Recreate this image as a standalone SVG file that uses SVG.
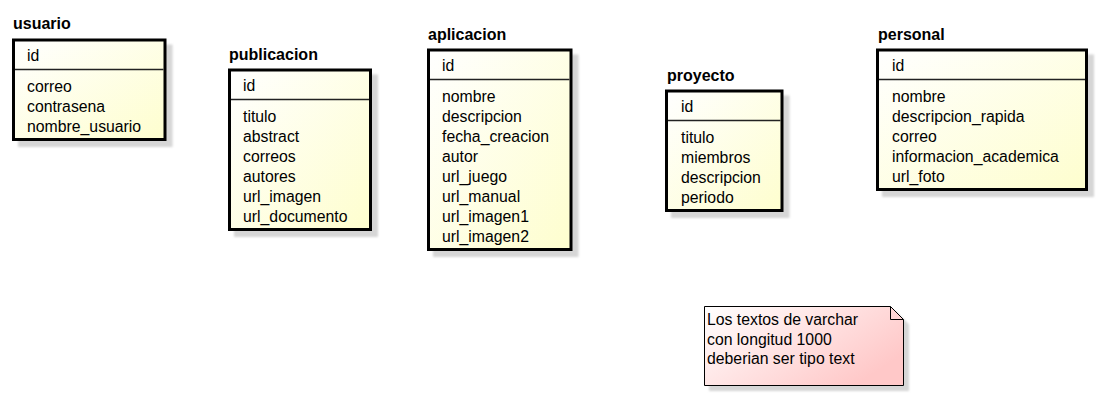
<svg xmlns="http://www.w3.org/2000/svg" width="1100" height="400" viewBox="0 0 1100 400">
<defs>
<linearGradient id="gClass" x1="0" y1="0" x2="1" y2="1">
<stop offset="0" stop-color="#FFFFFF"/>
<stop offset="1" stop-color="#FEFECE"/>
</linearGradient>
<linearGradient id="gNote" x1="0" y1="0" x2="1" y2="0.6">
<stop offset="0" stop-color="#FFFFFF"/>
<stop offset="1" stop-color="#FFC8C8"/>
</linearGradient>
<filter id="blur" x="-10%" y="-10%" width="120%" height="120%">
<feGaussianBlur stdDeviation="1"/>
</filter>
</defs>
<style>
text{font-family:"Liberation Sans",Arial,sans-serif;fill:#000}
.title{font-size:16px;font-weight:bold}
.attr{font-size:15.8px}
.box{fill:url(#gClass);stroke:#000;stroke-width:3}
.sep{stroke:#222;stroke-width:1.5}
.shadow{fill:#D6D6D6;filter:url(#blur)}
.note{fill:url(#gNote);stroke:#000;stroke-width:1}
</style>
<rect width="1100" height="400" fill="#FFFFFF"/>

<g id="usuario">
<rect class="shadow" x="18" y="44.5" width="154.5" height="102.5"/>
<rect class="box" x="13.5" y="40" width="151.5" height="99.5"/>
<line class="sep" x1="15" y1="69.5" x2="163.5" y2="69.5"/>
<text class="title" x="13" y="29">usuario</text>
<text class="attr" x="27" y="61">id</text>
<text class="attr" x="27" y="92">correo</text>
<text class="attr" x="27" y="112">contrasena</text>
<text class="attr" x="27" y="132">nombre_usuario</text>
</g>

<g id="publicacion">
<rect class="shadow" x="234" y="74.5" width="144" height="162.5"/>
<rect class="box" x="229.5" y="70" width="141" height="159.5"/>
<line class="sep" x1="231" y1="99.5" x2="369" y2="99.5"/>
<text class="title" x="229" y="60">publicacion</text>
<text class="attr" x="243" y="91">id</text>
<text class="attr" x="243" y="122">titulo</text>
<text class="attr" x="243" y="142">abstract</text>
<text class="attr" x="243" y="162">correos</text>
<text class="attr" x="243" y="182">autores</text>
<text class="attr" x="243" y="202">url_imagen</text>
<text class="attr" x="243" y="222">url_documento</text>
</g>

<g id="aplicacion">
<rect class="shadow" x="433" y="54.5" width="145.5" height="202.5"/>
<rect class="box" x="428.5" y="50" width="142.5" height="199.5"/>
<line class="sep" x1="430" y1="79.5" x2="569.5" y2="79.5"/>
<text class="title" x="428" y="40">aplicacion</text>
<text class="attr" x="442" y="71">id</text>
<text class="attr" x="442" y="102">nombre</text>
<text class="attr" x="442" y="122">descripcion</text>
<text class="attr" x="442" y="142">fecha_creacion</text>
<text class="attr" x="442" y="162">autor</text>
<text class="attr" x="442" y="182">url_juego</text>
<text class="attr" x="442" y="202">url_manual</text>
<text class="attr" x="442" y="222">url_imagen1</text>
<text class="attr" x="442" y="242">url_imagen2</text>
</g>

<g id="proyecto">
<rect class="shadow" x="671" y="95.5" width="118.5" height="122.5"/>
<rect class="box" x="666.5" y="91" width="115.5" height="119.5"/>
<line class="sep" x1="668" y1="120.5" x2="780.5" y2="120.5"/>
<text class="title" x="667" y="81">proyecto</text>
<text class="attr" x="681" y="112">id</text>
<text class="attr" x="681" y="143">titulo</text>
<text class="attr" x="681" y="163">miembros</text>
<text class="attr" x="681" y="183">descripcion</text>
<text class="attr" x="681" y="203">periodo</text>
</g>

<g id="personal">
<rect class="shadow" x="882" y="54.5" width="212" height="142.5"/>
<rect class="box" x="877.5" y="50" width="209" height="139.5"/>
<line class="sep" x1="879" y1="79.5" x2="1085" y2="79.5"/>
<text class="title" x="878" y="40">personal</text>
<text class="attr" x="892" y="71">id</text>
<text class="attr" x="892" y="102">nombre</text>
<text class="attr" x="892" y="122">descripcion_rapida</text>
<text class="attr" x="892" y="142">correo</text>
<text class="attr" x="892" y="162">informacion_academica</text>
<text class="attr" x="892" y="182">url_foto</text>
</g>

<g id="note">
<path class="shadow" d="M709,311 L895.5,311 L909,324.5 L909,391 L709,391 Z"/>
<path class="note" d="M704.5,306.5 L890.5,306.5 L903.5,319.5 L903.5,385.5 L704.5,385.5 Z"/>
<path d="M890.5,306.5 L890.5,319.5 L903.5,319.5" fill="none" stroke="#000" stroke-width="1"/>
<text class="attr" x="707" y="325">Los textos de varchar</text>
<text class="attr" x="707" y="344.5">con longitud 1000</text>
<text class="attr" x="707" y="364">deberian ser tipo text</text>
</g>

<g id="connectors"></g>
</svg>
